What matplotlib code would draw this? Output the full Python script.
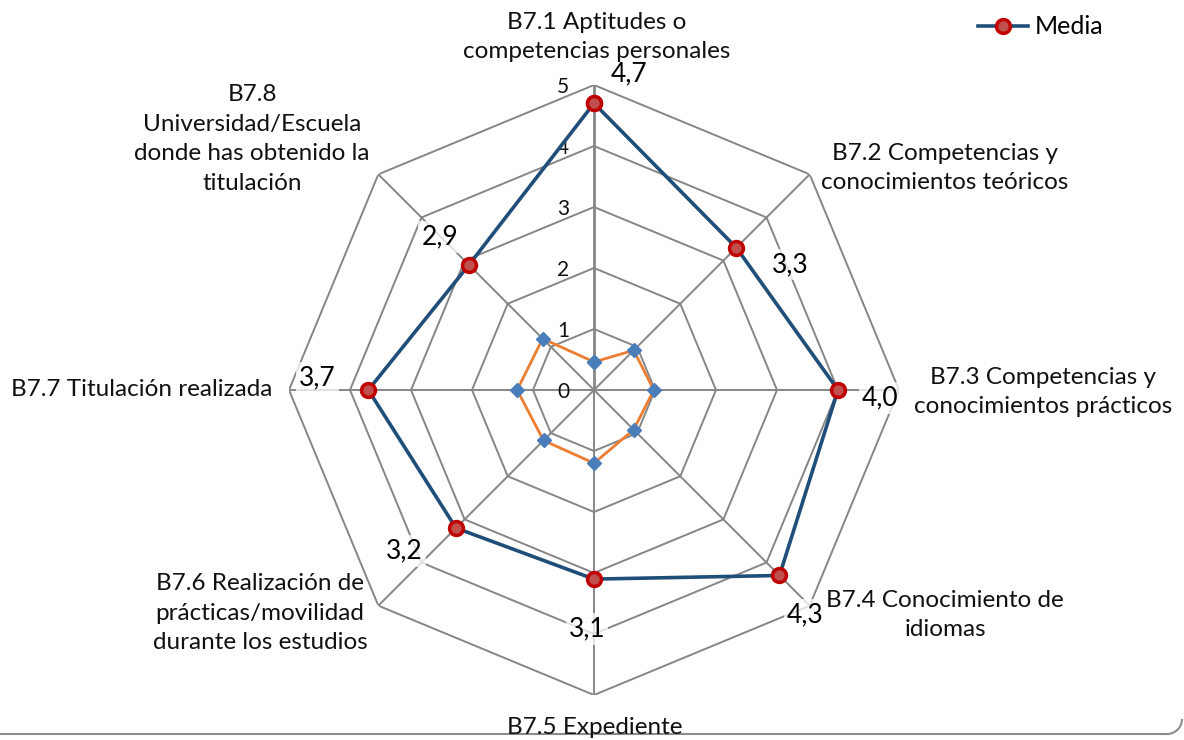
import numpy as np
import matplotlib.pyplot as plt
from matplotlib.lines import Line2D
from matplotlib.patches import Arc

# categories and series
categories = [
    "B7.1 Aptitudes o\ncompetencias personales",
    "B7.2 Competencias y\nconocimientos teóricos",
    "B7.3 Competencias y\nconocimientos prácticos",
    "B7.4 Conocimiento de\nidiomas",
    "B7.5 Expediente",
    "B7.6 Realización de\nprácticas/movilidad\ndurante los estudios",
    "B7.7 Titulación realizada",
    "B7.8\nUniversidad/Escuela\ndonde has obtenido la\ntitulación",
]
media = [4.7, 3.3, 4.0, 4.3, 3.1, 3.2, 3.7, 2.9]
second = [0.46, 0.92, 0.98, 0.92, 1.2, 1.17, 1.26, 1.19]
ticks = [0, 1, 2, 3, 4, 5]

plt.rcParams['font.family'] = ['Lato', 'DejaVu Sans']

W, H = 1184, 740
fig = plt.figure(figsize=(W / 100, H / 100), dpi=100)

# polar axes centred at (594, 390) px, outer ring radius 305 px
cx, cy, R = 594, 390, 305
ax = fig.add_axes([(cx - R) / W, (H - cy - R) / H, 2 * R / W, 2 * R / H],
                  projection='polar')
ax.set_theta_zero_location('N')
ax.set_theta_direction(-1)
ax.set_ylim(0, 5)
ax.grid(False)
ax.spines['polar'].set_visible(False)
ax.set_xticks([])
ax.set_yticks([])
ax.patch.set_alpha(0)

n = len(categories)
theta = np.arange(n) * 2 * np.pi / n
theta_closed = np.append(theta, theta[0])

grid_col = '#868686'
for t in ticks[1:]:
    ax.plot(theta_closed, [t] * (n + 1), color=grid_col, lw=1.4, zorder=1)
for i, th in enumerate(theta):
    ax.plot([th, th], [0, 5], color=grid_col, lw=2.0 if i == 0 else 1.4, zorder=1)

for t in ticks:
    ax.annotate(str(t), (0, t), xytext=(-31, -2), textcoords='offset pixels',
                ha='center', va='center', fontsize=15, color='#111111')

ax.plot(theta_closed, np.append(second, second[0]), color='#ED7D31', lw=2,
        marker='D', markersize=7, markerfacecolor='#4A7EBB',
        markeredgecolor='#4A7EBB', zorder=3)
ax.plot(theta_closed, np.append(media, media[0]), color='#1F4E79', lw=2.6,
        marker='o', markersize=10, markerfacecolor='#C0504D',
        markeredgecolor='#C00000', markeredgewidth=2.5, zorder=4)

# data label offsets (px) as placed in the original
offsets = [(35, 29), (54, -17), (42, -8), (26, -39), (-7, -50),
           (-52, -23), (-51, 12), (-29, 28)]
for th, v, off in zip(theta, media, offsets):
    ax.annotate(f"{v:.1f}".replace('.', ','), (th, v), xytext=off,
                textcoords='offset pixels', ha='center', va='center',
                fontsize=19, color='#000000', zorder=5,
                bbox=dict(boxstyle='square,pad=0.12', fc='white', ec='none',
                          alpha=0.75))

# category labels: centre positions in pixels
label_pos = [(597, 37, 'center'), (945, 168, 'center'), (1043, 392, 'center'),
             (945, 615, 'center'), (595, 727, 'center'), (260, 613, 'center'),
             (272, 390, 'right'), (252, 139, 'center')]
for txt, (x, y, ha) in zip(categories, label_pos):
    fig.text(x / W, 1 - y / H, txt, ha=ha, va='center', multialignment='center',
             fontsize=17.5, color='#111111', linespacing=1.5)

# legend
leg = fig.legend(handles=[Line2D([], [], color='#1F4E79', lw=2.6, marker='o',
                                 markersize=10, markerfacecolor='#C0504D',
                                 markeredgecolor='#C00000', markeredgewidth=2.5)],
                 labels=['Media'], loc='center left',
                 bbox_to_anchor=(955 / W, 1 - 27 / H), frameon=False,
                 fontsize=18, handlelength=2.0, handletextpad=0.3)

# chart frame (bottom edge and rounded corner visible)
r = 15
fig.add_artist(Line2D([0, (W - 2 - r) / W], [6 / H, 6 / H],
                      transform=fig.transFigure, color='#8C8C8C', lw=1.5))
fig.add_artist(Arc(((W - 2 - r) / W, (6 + r) / H), 2 * r / W, 2 * r / H,
                   theta1=270, theta2=360, transform=fig.transFigure,
                   color='#8C8C8C', lw=1.5))

fig.savefig('out.png', dpi=100)
